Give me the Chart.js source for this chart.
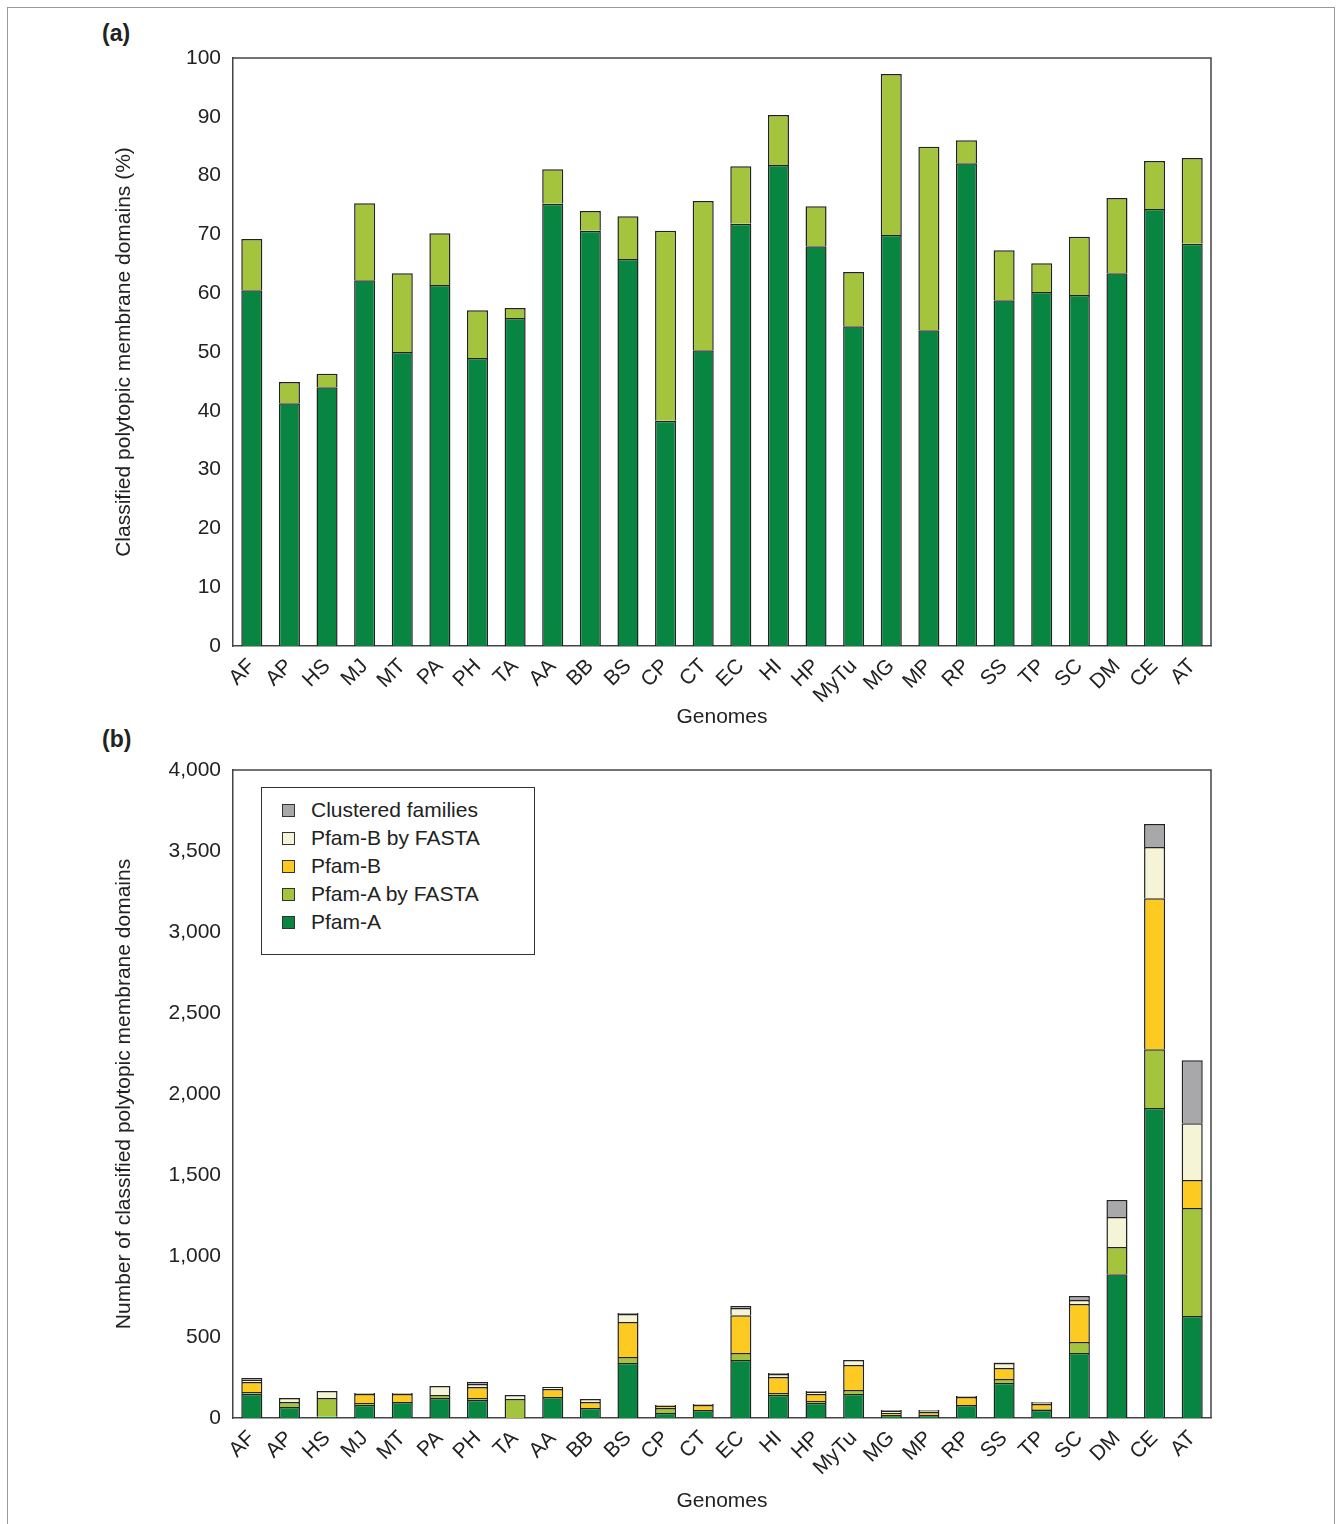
<!DOCTYPE html>
<html>
<head>
<script src="https://cdn.jsdelivr.net/npm/chart.js@4"></script>
<style>
body{margin:0;background:#fff;font-family:"Liberation Sans",Arial,sans-serif;}
#wrap{position:relative;width:1338px;height:1524px;}
#frame{position:absolute;left:7px;top:7px;width:1326px;height:1530px;border:1px solid #999;}
canvas{position:absolute;left:0;}
.lab{position:absolute;font-weight:bold;font-size:23px;color:#222;}
#legend{position:absolute;left:261px;top:787px;width:272px;height:166px;border:1.5px solid #333;background:#fff;font-size:21px;color:#222;}
#legend div{height:28px;line-height:28px;padding-left:49px;position:relative;margin-top:0;}
#legend span{position:absolute;left:20px;top:8px;width:11px;height:11px;border:1px solid #333;}
</style>
</head>
<body>
<div id="wrap">
<div id="frame"></div>
<div class="lab" style="left:102px;top:20px">(a)</div>
<div class="lab" style="left:102px;top:726px">(b)</div>
<div style="position:absolute;left:112px;top:0;width:1226px;height:740px"><canvas id="ca" width="1226" height="740"></canvas></div>
<div style="position:absolute;left:112px;top:740px;width:1226px;height:784px"><canvas id="cb" width="1226" height="784"></canvas></div>
<div id="legend"></div>
</div>
<script>
var genomes = ["AF","AP","HS","MJ","MT","PA","PH","TA","AA","BB","BS","CP","CT","EC","HI","HP","MyTu","MG","MP","RP","SS","TP","SC","DM","CE","AT"];

// panel (a): percent classified
var pctPfamA = [60.5,41.3,44,62.2,50,61.4,49,55.8,75.2,70.6,65.8,38.3,50.3,71.8,81.8,68,54.4,69.9,53.7,82.1,58.8,60.2,59.7,63.4,74.3,68.4];
var pctTotal = [69.2,44.9,46.3,75.3,63.4,70.2,57.1,57.5,81.1,74,73.1,70.6,75.7,81.6,90.3,74.8,63.6,97.3,84.9,86,67.3,65.1,69.6,76.2,82.5,83];

// panel (b): counts (cumulative tops, converted below)
var cumPfamA  = [148,68,8,80,99,123,111,0,130,62,339,31,49,358,142,93,148,19,19,80,216,49,401,888,1913,629];
var cumAFasta = [160,99,123,93,99,142,123,117,130,62,376,62,49,401,154,105,173,19,19,80,241,55,469,1055,2277,1296];
var cumPfamB  = [222,99,123,148,148,142,191,117,179,99,592,74,80,635,253,148,327,31,37,130,309,86,703,1055,3209,1469];
var cumBFasta = [235,123,167,154,154,197,210,142,191,117,642,80,86,679,272,160,358,43,43,136,339,93,728,1240,3524,1820];
var cumTotal  = [247,123,167,154,154,197,222,142,191,117,648,80,86,691,278,167,358,49,49,136,342,99,753,1345,3666,2209];

function diff(a,b){ return a.map(function(v,i){ return Math.max(0, v-(b?b[i]:0)); }); }

var cGreen="#078541", cLight="#a3c43c", cYellow="#fdca21", cCream="#f6f4d6", cGrey="#a8a8aa";
var font={family:"'Liberation Sans', Arial, sans-serif",size:21};
Chart.defaults.color="#222";

function ds(label,data,color){
  return {label:label,data:data,backgroundColor:color,borderColor:"#222",borderWidth:1.5,barPercentage:0.56,categoryPercentage:1};
}

function opts(yMax,step,padTop,xh,fmt){
  return {
    responsive:false,animation:false,
    layout:{padding:{top:padTop,right:127,left:0,bottom:0}},
    plugins:{legend:{display:false},tooltip:{enabled:false}},
    scales:{
      x:{stacked:true,grid:{display:false,drawTicks:true,tickLength:8,color:"#555"},border:{color:"#444",width:1.5},
        ticks:{font:font,maxRotation:45,minRotation:45,padding:0,autoSkip:false},
        title:{display:true,text:"Genomes",font:font,padding:{top:0,bottom:10}},
        afterFit:function(s){s.height=xh;}},
      y:{stacked:true,min:0,max:yMax,grid:{display:false,tickLength:8},border:{color:"#444",width:1.5},
        ticks:{stepSize:step,font:font,padding:4,callback:fmt},
        title:{display:true,font:font,padding:0},
        afterFit:function(s){s.width=121;}}
    }
  };
}

var boxPlugin={id:"box",afterDraw:function(c){
  var a=c.chartArea,x=c.ctx; x.save(); x.strokeStyle="#444"; x.lineWidth=1.5;
  x.beginPath(); x.moveTo(a.left,a.top); x.lineTo(a.right,a.top); x.lineTo(a.right,a.bottom); x.stroke(); x.restore();
}};

var oa=opts(100,10,58,94,function(v){return v;});
oa.scales.y.title.text="Classified polytopic membrane domains (%)";
new Chart(document.getElementById("ca"),{type:"bar",data:{labels:genomes,datasets:[
  ds("Pfam-A",pctPfamA,cGreen),
  ds("Pfam-A by FASTA",diff(pctTotal,pctPfamA),cLight)
]},options:oa,plugins:[boxPlugin]});

var ob=opts(4000,500,30,106,function(v){return v.toLocaleString("en-US");});
ob.scales.y.title.text="Number of classified polytopic membrane domains";
var dsB=[
  ds("Pfam-A",cumPfamA,cGreen),
  ds("Pfam-A by FASTA",diff(cumAFasta,cumPfamA),cLight),
  ds("Pfam-B",diff(cumPfamB,cumAFasta),cYellow),
  ds("Pfam-B by FASTA",diff(cumBFasta,cumPfamB),cCream),
  ds("Clustered families",diff(cumTotal,cumBFasta),cGrey)
];
new Chart(document.getElementById("cb"),{type:"bar",data:{labels:genomes,datasets:dsB},options:ob,plugins:[boxPlugin]});

var lg=document.getElementById("legend"), html="<div style='height:8px'></div>";
dsB.slice().reverse().forEach(function(d){
  html+="<div><span style='background:"+d.backgroundColor+"'></span>"+d.label+"</div>";
});
lg.innerHTML=html;
</script>
</body>
</html>
